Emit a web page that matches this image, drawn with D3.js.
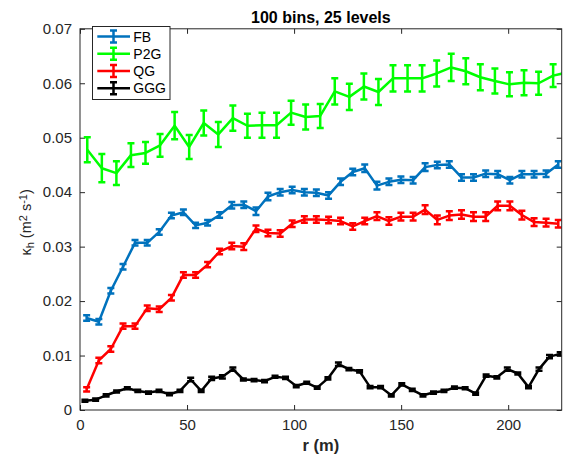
<!DOCTYPE html>
<html>
<head>
<meta charset="utf-8">
<title>100 bins, 25 levels</title>
<style>
body { margin: 0; background: #fff; }
svg { font-family: "Liberation Sans", Arial, Helvetica, sans-serif; }
.axis path { display: none; }
.axis line { stroke: #262626; stroke-width: 1; }
.axis text { fill: #262626; font-size: 15px; }
.title { font-size: 16px; font-weight: bold; fill: #000; }
.xlabel { font-size: 16.5px; font-weight: bold; fill: #262626; }
.ylabel { font-size: 14.5px; fill: #262626; }
.legend text { font-size: 14px; fill: #000; }
.series path { fill: none; stroke-width: 2.5; }
</style>
</head>
<body>
<div id="vis"></div>
<script src="https://d3js.org/d3.v7.min.js"></script>
<script>

// ---- data ----
var xTicks = [0, 50, 100, 150, 200];
var yTicks = [0, 0.01, 0.02, 0.03, 0.04, 0.05, 0.06, 0.07];

// FB and QG share the same bins
var rFB = [3.1, 8.8, 14.4, 20.1, 25.7, 31.4, 37.0, 42.7, 48.3, 54.0,
           59.6, 65.2, 70.9, 76.5, 82.2, 87.8, 93.5, 99.1, 104.8, 110.4,
           116.1, 121.7, 127.4, 133.0, 138.7, 144.3, 149.9, 155.6, 161.2, 166.9,
           172.5, 178.2, 183.8, 189.5, 195.1, 200.8, 206.4, 212.1, 217.7, 223.4];
var kFB = [0.0169, 0.0162, 0.0219, 0.0263, 0.0307, 0.0307, 0.0327, 0.0357, 0.0363, 0.0339,
           0.0344, 0.0358, 0.0376, 0.0377, 0.0365, 0.0392, 0.0400, 0.0404, 0.0400, 0.0399,
           0.0394, 0.0419, 0.0437, 0.0444, 0.0412, 0.0419, 0.0423, 0.0422, 0.0446, 0.0450,
           0.0451, 0.0427, 0.0427, 0.0434, 0.0433, 0.0422, 0.0433, 0.0433, 0.0434, 0.0451];
var eFB = [0.0005, 0.0005, 0.0005, 0.0005, 0.0005, 0.0005, 0.0005, 0.0005, 0.0005, 0.0005,
           0.0005, 0.0005, 0.0006, 0.0006, 0.0007, 0.0007, 0.0006, 0.0006, 0.0006, 0.0006,
           0.0006, 0.0006, 0.0006, 0.0007, 0.0007, 0.0006, 0.0006, 0.0006, 0.0007, 0.0006,
           0.0006, 0.0006, 0.0006, 0.0006, 0.0006, 0.0006, 0.0006, 0.0006, 0.0006, 0.0006];

var rQG = rFB;
var kQG = [0.0038, 0.0091, 0.0112, 0.0154, 0.0154, 0.0187, 0.0185, 0.0206, 0.0248, 0.0248,
           0.0267, 0.0291, 0.0301, 0.0300, 0.0333, 0.0325, 0.0324, 0.0342, 0.0350, 0.0350,
           0.0349, 0.0347, 0.0337, 0.0347, 0.0356, 0.0347, 0.0355, 0.0355, 0.0368, 0.0349,
           0.0357, 0.0359, 0.0355, 0.0355, 0.0375, 0.0375, 0.0358, 0.0345, 0.0344, 0.0342];
var eQG = [0.0004, 0.0005, 0.0005, 0.0005, 0.0005, 0.0005, 0.0005, 0.0005, 0.0005, 0.0005,
           0.0005, 0.0005, 0.0006, 0.0006, 0.0006, 0.0006, 0.0006, 0.0006, 0.0006, 0.0006,
           0.0006, 0.0006, 0.0006, 0.0006, 0.0007, 0.0007, 0.0007, 0.0007, 0.0008, 0.0008,
           0.0008, 0.0008, 0.0008, 0.0008, 0.0008, 0.0008, 0.0008, 0.0007, 0.0007, 0.0007];

var rP2G = [3.4, 10.2, 17.0, 23.8, 30.6, 37.4, 44.2, 51.0, 57.8, 64.6,
            71.4, 78.2, 85.0, 91.8, 98.6, 105.4, 112.2, 119.0, 125.8, 132.6,
            139.4, 146.2, 153.0, 159.8, 166.6, 173.4, 180.2, 187.0, 193.8, 200.6,
            207.4, 214.2, 221.0, 227.8];
var kP2G = [0.0478, 0.0444, 0.0435, 0.0468, 0.0472, 0.0486, 0.0522, 0.0483, 0.0527, 0.0506,
            0.0536, 0.0522, 0.0523, 0.0523, 0.0546, 0.0538, 0.0540, 0.0585, 0.0575, 0.0594,
            0.0584, 0.0609, 0.0609, 0.0609, 0.0618, 0.0629, 0.0622, 0.0611, 0.0604, 0.0598,
            0.0601, 0.0600, 0.0614, 0.0620];
var eP2G = [0.0023, 0.0026, 0.0022, 0.0022, 0.0020, 0.0021, 0.0025, 0.0022, 0.0023, 0.0023,
            0.0023, 0.0022, 0.0023, 0.0023, 0.0022, 0.0023, 0.0022, 0.0024, 0.0024, 0.0024,
            0.0024, 0.0024, 0.0024, 0.0024, 0.0024, 0.0025, 0.0024, 0.0024, 0.0023, 0.0022,
            0.0023, 0.0021, 0.0021, 0.0022];

var rGGG = [2.3, 7.3, 12.2, 17.1, 22.1, 27.0, 32.0, 36.9, 41.8, 46.7,
            51.7, 56.6, 61.5, 66.5, 71.4, 76.3, 81.3, 86.2, 91.1, 96.0,
            101.0, 105.9, 110.8, 115.8, 120.7, 125.6, 130.6, 135.5, 140.4, 145.4,
            150.3, 155.2, 160.2, 165.1, 170.0, 174.9, 179.9, 184.8, 189.7, 194.7,
            199.6, 204.5, 209.5, 214.4, 219.3, 224.3];
var kGGG = [0.0017, 0.0019, 0.0027, 0.0034, 0.0040, 0.0035, 0.0032, 0.0035, 0.0029, 0.0035,
            0.0056, 0.0035, 0.0058, 0.0061, 0.0075, 0.0056, 0.0055, 0.0053, 0.0061, 0.0059,
            0.0044, 0.0050, 0.0041, 0.0058, 0.0084, 0.0075, 0.0071, 0.0042, 0.0042, 0.0027,
            0.0047, 0.0037, 0.0027, 0.0032, 0.0035, 0.0041, 0.0040, 0.0030, 0.0063, 0.0060,
            0.0075, 0.0067, 0.0042, 0.0075, 0.0098, 0.0103];
var eGGG = [0.0002, 0.0002, 0.0002, 0.0002, 0.0002, 0.0002, 0.0002, 0.0002, 0.0002, 0.0002,
            0.0003, 0.0002, 0.0003, 0.0003, 0.0003, 0.0002, 0.0002, 0.0002, 0.0002, 0.0002,
            0.0002, 0.0002, 0.0002, 0.0002, 0.0003, 0.0002, 0.0002, 0.0002, 0.0002, 0.0002,
            0.0002, 0.0002, 0.0002, 0.0002, 0.0002, 0.0002, 0.0002, 0.0002, 0.0002, 0.0002,
            0.0003, 0.0002, 0.0002, 0.0003, 0.0003, 0.0003];

var names  = ["FB", "P2G", "QG", "GGG"];
var colors = ["#0072BD", "#00FF00", "#FF0000", "#000000"];

var series = [
  {name: names[0], color: colors[0], r: rFB,  k: kFB,  e: eFB},
  {name: names[1], color: colors[1], r: rP2G, k: kP2G, e: eP2G},
  {name: names[2], color: colors[2], r: rQG,  k: kQG,  e: eQG},
  {name: names[3], color: colors[3], r: rGGG, k: kGGG, e: eGGG}
];

// ---- layout ----
var W = 563, H = 458;
var margin = {top: 28.8, right: 1.3, bottom: 48, left: 80},
    width = W - margin.left - margin.right,
    height = H - margin.top - margin.bottom;

var x = d3.scaleLinear().domain([0, 225]).range([0, width]);
var y = d3.scaleLinear().domain([0, 0.07]).range([height, 0]);

var svg = d3.select("#vis").append("svg")
    .attr("width", W)
    .attr("height", H);

var g = svg.append("g")
    .attr("transform", "translate(" + margin.left + "," + margin.top + ")");

g.append("clipPath").attr("id", "clip")
  .append("rect").attr("width", width).attr("height", height);

// axes, ticks pointing inwards like matlab
var fmtY = function(d) { return d === 0 ? "0" : d3.format(".2f")(d); };

g.append("g").attr("class", "axis")
    .attr("transform", "translate(0," + height + ")")
    .call(d3.axisBottom(x).tickValues(xTicks).tickSizeInner(-5).tickSizeOuter(0)
      .tickPadding(9).tickFormat(d3.format("d")));
g.append("g").attr("class", "axis")
    .call(d3.axisTop(x).tickValues(xTicks).tickSizeInner(-5).tickSizeOuter(0).tickFormat(""));
g.append("g").attr("class", "axis")
    .call(d3.axisLeft(y).tickValues(yTicks).tickSizeInner(-5).tickSizeOuter(0)
      .tickPadding(8).tickFormat(fmtY));
g.append("g").attr("class", "axis")
    .attr("transform", "translate(" + width + ",0)")
    .call(d3.axisRight(y).tickValues(yTicks).tickSizeInner(-5).tickSizeOuter(0).tickFormat(""));

// series: line + error bars
var line = d3.line()
    .x(function(d) { return x(d.r); })
    .y(function(d) { return y(d.k); });

var cap = 3.5;
function errPath(d) {
  var px = x(d.r), y0 = y(d.k - d.e), y1 = y(d.k + d.e);
  return "M" + px + "," + y0 + "V" + y1 +
         "M" + (px - cap) + "," + y0 + "H" + (px + cap) +
         "M" + (px - cap) + "," + y1 + "H" + (px + cap);
}

var plot = g.append("g").attr("clip-path", "url(#clip)");

series.forEach(function(s) {
  var pts = s.r.map(function(r, i) { return {r: r, k: s.k[i], e: s.e[i]}; });
  var sg = plot.append("g").attr("class", "series");
  sg.append("path").datum(pts)
      .attr("stroke", s.color)
      .attr("stroke-linejoin", "round")
      .attr("d", line);
  sg.selectAll(".err").data(pts).enter().append("path")
      .attr("class", "err")
      .attr("stroke", s.color)
      .attr("d", errPath);
});

// box
g.append("rect")
    .attr("width", width).attr("height", height)
    .attr("fill", "none").attr("stroke", "#262626").attr("stroke-width", 1);

// title and labels
svg.append("text").attr("class", "title")
    .attr("x", margin.left + width / 2).attr("y", 23)
    .attr("text-anchor", "middle")
    .text("100 bins, 25 levels");

svg.append("text").attr("class", "xlabel")
    .attr("x", margin.left + width / 2).attr("y", 451)
    .attr("text-anchor", "middle")
    .text("r (m)");

var yl = svg.append("text").attr("class", "ylabel")
    .attr("transform", "translate(31," + (margin.top + height / 2 + 3) + ") rotate(-90)")
    .attr("text-anchor", "middle");
yl.append("tspan").text("κ");
yl.append("tspan").attr("baseline-shift", "-25%").attr("font-size", "11px").text("h");
yl.append("tspan").text(" (m");
yl.append("tspan").attr("baseline-shift", "40%").attr("font-size", "11px").text("2");
yl.append("tspan").text(" s");
yl.append("tspan").attr("baseline-shift", "40%").attr("font-size", "11px").text("-1");
yl.append("tspan").text(")");

// legend
var leg = svg.append("g").attr("class", "legend");
leg.append("rect")
    .attr("x", 92.5).attr("y", 26.5).attr("width", 77.5).attr("height", 73)
    .attr("fill", "#fff").attr("stroke", "#262626").attr("stroke-width", 1);

series.forEach(function(s, i) {
  var ly = 36.6 + i * 17.2, lx = 113.5;
  leg.append("line")
      .attr("x1", 97.3).attr("x2", 130).attr("y1", ly).attr("y2", ly)
      .attr("stroke", s.color).attr("stroke-width", 2.5);
  leg.append("path")
      .attr("d", "M" + lx + "," + (ly - 6) + "V" + (ly + 6) +
                 "M" + (lx - cap) + "," + (ly - 6) + "H" + (lx + cap) +
                 "M" + (lx - cap) + "," + (ly + 6) + "H" + (lx + cap))
      .attr("stroke", s.color).attr("stroke-width", 2.5).attr("fill", "none");
  leg.append("text")
      .attr("x", 133.3).attr("y", ly).attr("dy", "0.36em")
      .text(s.name);
});

</script>
</body>
</html>
